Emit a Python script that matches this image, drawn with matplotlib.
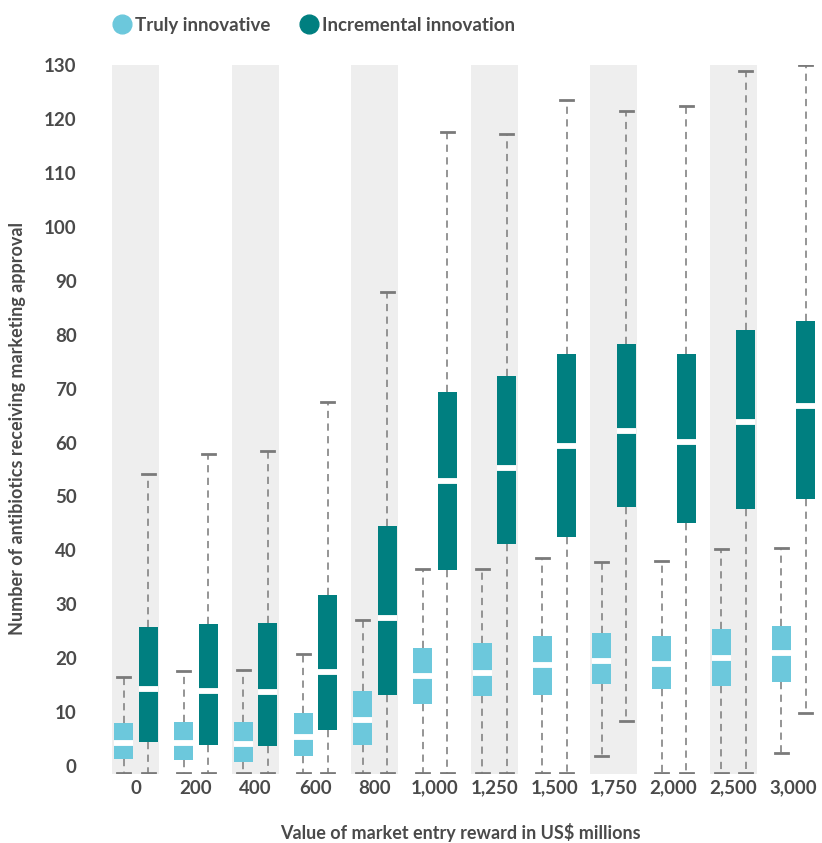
import matplotlib.pyplot as plt
from matplotlib.lines import Line2D

plt.rcParams['font.family'] = ['Lato', 'DejaVu Sans']
plt.rcParams['font.weight'] = 'bold'

categories = ['0', '200', '400', '600', '800', '1,000', '1,250', '1,500',
              '1,750', '2,000', '2,500', '3,000']

# Truly innovative
true_lo = [0, 0, 0, 0, 0, 0, 0, 0, 3.2, 0, 0, 3.6]
true_q1 = [2.5, 2.3, 2.1, 3.2, 5.2, 12.7, 14.2, 14.5, 16.4, 15.5, 16.2, 16.8]
true_med = [5.6, 5.5, 5.4, 6.6, 9.8, 17.9, 18.6, 20.0, 20.8, 20.2, 21.4, 22.3]
true_q3 = [9.3, 9.5, 9.5, 11.1, 15.2, 23.2, 24.1, 25.4, 26.0, 25.4, 26.7, 27.3]
true_hi = [17.7, 18.9, 19.1, 22.0, 28.4, 37.9, 37.8, 39.8, 39.1, 39.4, 41.5, 41.8]

# Incremental innovation
inc_lo = [0, 0, 0, 0, 0, 0, 0, 0, 9.7, 0, 0, 11.1]
inc_q1 = [5.75, 5.2, 4.9, 8.0, 14.5, 37.7, 42.5, 43.7, 49.4, 46.3, 49.0, 50.9]
inc_med = [15.6, 15.2, 15.0, 18.8, 28.7, 54.1, 56.5, 60.7, 63.5, 61.4, 65.1, 68.0]
inc_q3 = [27.1, 27.6, 27.8, 33.0, 45.8, 70.7, 73.7, 77.7, 79.6, 77.7, 82.2, 83.9]
inc_hi = [55.5, 59.2, 59.8, 68.9, 89.2, 119.0, 118.6, 124.9, 122.8, 123.7, 130.3, 131.4]

light = '#6cc8dc'
dark = '#007f80'
text_col = '#4a4a4a'


def make_stats(lo, q1, med, q3, hi):
    return [dict(whislo=a, q1=b, med=c, q3=d, whishi=e, fliers=[])
            for a, b, c, d, e in zip(lo, q1, med, q3, hi)]


fig = plt.figure(figsize=(8.22, 8.43), dpi=100)
ax = fig.add_axes([0.1253, 0.0819, 0.8686, 0.841])

n = len(categories)
for i in range(0, n, 2):
    ax.axvspan(i - 0.395, i + 0.395, color='#eeeeee', lw=0, zorder=0)

box_kw = dict(widths=0.32, capwidths=0.22, patch_artist=True, showfliers=False,
              whiskerprops=dict(color='#8c8c8c', lw=1.3, linestyle=(0, (4, 3))),
              capprops=dict(color='#7a7a7a', lw=2),
              medianprops=dict(color='white', lw=4.2))

for stats, off, col in [(make_stats(true_lo, true_q1, true_med, true_q3, true_hi), -0.2, light),
                        (make_stats(inc_lo, inc_q1, inc_med, inc_q3, inc_hi), 0.21, dark)]:
    bp = ax.bxp(stats, positions=[i + off for i in range(n)],
                boxprops=dict(facecolor=col, edgecolor='none'), **box_kw)
    for item in bp['whiskers'] + bp['caps']:
        item.set_zorder(2)
    for b in bp['boxes']:
        b.set_zorder(3)
    for m in bp['medians']:
        m.set_zorder(4)

ax.set_xlim(-0.55, 11.4)
ax.set_ylim(-0.2, 131.35)
ax.set_xticks(range(n))
ax.set_xticklabels(categories)
ax.set_yticks(range(0, 131, 10))
for lbl in ax.get_yticklabels():
    lbl.set_va('baseline')
ax.tick_params(axis='y', length=0, pad=19, labelsize=13.5, labelcolor=text_col)
ax.tick_params(axis='x', length=0, pad=4, labelsize=13.5, labelcolor=text_col)
for s in ax.spines.values():
    s.set_visible(False)

ax.set_xlabel('Value of market entry reward in US$ millions', fontsize=13,
              fontweight='bold', color=text_col, labelpad=19)
fig.text(0.021, 0.492, 'Number of antibiotics receiving marketing approval',
         rotation=90, ha='center', va='center', fontsize=13, fontweight='bold',
         color=text_col)

handles = [Line2D([], [], marker='o', ls='none', markersize=13.5, color=light),
           Line2D([], [], marker='o', ls='none', markersize=13.5, color=dark)]
fig.legend(handles, ['Truly innovative', 'Incremental innovation'],
           loc='center left', bbox_to_anchor=(0.117, 0.970), ncol=2, frameon=False,
           prop={'weight': 'bold', 'size': 13.5}, labelcolor=text_col,
           handletextpad=0.15, columnspacing=1.6, handlelength=1.0)

fig.savefig('out.png', dpi=100)
